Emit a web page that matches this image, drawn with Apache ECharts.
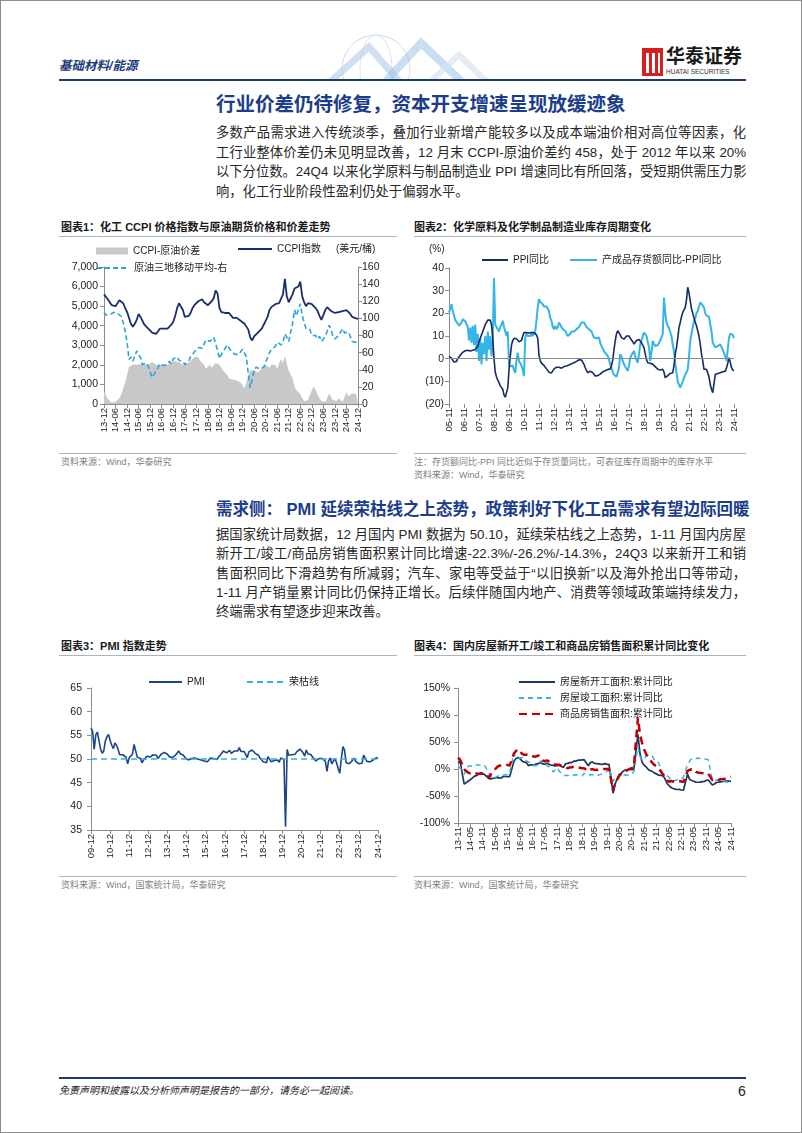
<!DOCTYPE html>
<html><head><meta charset="utf-8">
<script src="https://cdn.jsdelivr.net/npm/echarts@6/dist/echarts.min.js"></script>
<style>
body{margin:0;background:#fff;}
#page{position:relative;width:802px;height:1133px;border:1px solid #8c8c8c;box-sizing:border-box;overflow:hidden;font-family:'Liberation Sans','Noto Sans CJK SC',sans-serif;background:#fff;}
.abs{position:absolute;white-space:nowrap;}
.pl{position:absolute;left:215px;width:530px;height:20px;line-height:20px;font-size:13.3px;color:#262626;text-align:justify;text-align-last:justify;white-space:nowrap;}
.pl.last{text-align-last:left;}
.ctitle{position:absolute;font-size:11px;line-height:14px;font-weight:bold;color:#1a1a1a;white-space:nowrap;}
.rule{position:absolute;height:1px;background:#a6b4c8;}
.src{position:absolute;font-size:9px;line-height:12px;color:#808080;white-space:nowrap;}
.sec{position:absolute;left:215px;font-weight:bold;color:#1c3d8a;white-space:nowrap;}
.chart{position:absolute;}
</style></head>
<body>
<div id="page">
  <!-- header -->
  <svg class="abs" style="left:290px;top:28px" width="220" height="52">
    <circle cx="85" cy="40" r="34" fill="none" stroke="#d5dbe4" stroke-width="1"/>
    <ellipse cx="85" cy="40" rx="16" ry="34" fill="none" stroke="#dde2ea" stroke-width="1"/>
    <polyline points="40,52 78,18 108,52" fill="none" stroke="#b9d3ec" stroke-width="7" opacity="0.7"/>
    <polyline points="95,52 130,14 170,52" fill="none" stroke="#9fc3e6" stroke-width="8" opacity="0.55"/>
    <polyline points="140,52 168,26 195,52" fill="none" stroke="#d8e4f1" stroke-width="6" opacity="0.7"/>
  </svg>
  <div class="abs" style="left:58px;top:57px;font-size:12.5px;line-height:16px;font-weight:bold;font-style:italic;color:#1e3c7c;">基础材料/能源</div>
  <div class="abs" style="left:641px;top:47px;width:21px;height:28px;background:#d6201f;"></div>
  <div class="abs" style="left:645px;top:52px;width:3px;height:20px;background:#fff;"></div>
  <div class="abs" style="left:651px;top:52px;width:3px;height:20px;background:#fff;"></div>
  <div class="abs" style="left:657px;top:52px;width:2px;height:20px;background:#fff;"></div>
  <div class="abs" style="left:665px;top:45px;font-size:19px;line-height:22px;font-weight:bold;color:#1a1a1a;">华泰证券</div>
  <div class="abs" style="left:665px;top:67px;font-size:6.5px;line-height:8px;color:#333;">HUATAI SECURITIES</div>
  <div class="abs" style="left:58px;top:78px;width:687px;height:2px;background:#1c3a72;"></div>

  <div class="sec" style="top:90px;font-size:19.5px;line-height:26px;">行业价差仍待修复，资本开支增速呈现放缓迹象</div>
  <div class="pl" style="top:122px">多数产品需求进入传统淡季，叠加行业新增产能较多以及成本端油价相对高位等因素，化</div>
  <div class="pl" style="top:141.5px">工行业整体价差仍未见明显改善，12 月末 CCPI-原油价差约 458，处于 2012 年以来 20%</div>
  <div class="pl" style="top:161px">以下分位数。24Q4 以来化学原料与制品制造业 PPI 增速同比有所回落，受短期供需压力影</div>
  <div class="pl last" style="top:180.5px">响，化工行业阶段性盈利仍处于偏弱水平。</div>

  <div class="ctitle" style="left:60px;top:219px">图表1：化工 CCPI 价格指数与原油期货价格和价差走势</div>
  <div class="ctitle" style="left:413px;top:219px">图表2：化学原料及化学制品制造业库存周期变化</div>
  <div class="rule" style="left:58px;top:235px;width:338px"></div>
  <div class="rule" style="left:413px;top:235px;width:332px"></div>
  <div id="c1" class="chart" style="left:50px;top:238px;width:350px;height:213px"></div>
  <div id="c2" class="chart" style="left:405px;top:238px;width:350px;height:213px"></div>
  <div class="rule" style="left:58px;top:452px;width:338px"></div>
  <div class="rule" style="left:413px;top:452px;width:332px"></div>
  <div class="src" style="left:60px;top:455px">资料来源：Wind，华泰研究</div>
  <div class="src" style="left:413px;top:455px">注：存货额同比-PPI 同比近似于存货量同比，可表征库存周期中的库存水平</div>
  <div class="src" style="left:413px;top:468px">资料来源：Wind，华泰研究</div>

  <div class="sec" style="top:496px;font-size:16.5px;line-height:24px;">需求侧： PMI 延续荣枯线之上态势，政策利好下化工品需求有望边际回暖</div>
  <div class="pl" style="top:524px">据国家统计局数据，12 月国内 PMI 数据为 50.10，延续荣枯线之上态势，1-11 月国内房屋</div>
  <div class="pl" style="top:543.3px">新开工/竣工/商品房销售面积累计同比增速-22.3%/-26.2%/-14.3%，24Q3 以来新开工和销</div>
  <div class="pl" style="top:562.6px">售面积同比下滑趋势有所减弱；汽车、家电等受益于“以旧换新”以及海外抢出口等带动，</div>
  <div class="pl" style="top:582px">1-11 月产销量累计同比仍保持正增长。后续伴随国内地产、消费等领域政策端持续发力，</div>
  <div class="pl last" style="top:601.3px">终端需求有望逐步迎来改善。</div>

  <div class="ctitle" style="left:60px;top:638px">图表3：PMI 指数走势</div>
  <div class="ctitle" style="left:413px;top:638px">图表4：国内房屋新开工/竣工和商品房销售面积累计同比变化</div>
  <div class="rule" style="left:58px;top:654px;width:338px"></div>
  <div class="rule" style="left:413px;top:654px;width:332px"></div>
  <div id="c3" class="chart" style="left:50px;top:658px;width:350px;height:216px"></div>
  <div id="c4" class="chart" style="left:405px;top:658px;width:350px;height:216px"></div>
  <div class="rule" style="left:58px;top:875px;width:338px"></div>
  <div class="rule" style="left:413px;top:875px;width:332px"></div>
  <div class="src" style="left:60px;top:878px">资料来源：Wind，国家统计局，华泰研究</div>
  <div class="src" style="left:413px;top:878px">资料来源：Wind，国家统计局，华泰研究</div>

  <div class="abs" style="left:58px;top:1076px;width:687px;height:2px;background:#1c3a72;"></div>
  <div class="abs" style="left:58px;top:1083px;font-size:10px;line-height:14px;font-style:italic;color:#222;">免责声明和披露以及分析师声明是报告的一部分，请务必一起阅读。</div>
  <div class="abs" style="left:737px;top:1081px;font-size:14px;line-height:18px;color:#222;">6</div>
</div>
<script>
// ---------- category helpers ----------
function months(y0, m0, y1, m1) {
  const out = []; let y = y0, m = m0;
  while (y < y1 || (y === y1 && m <= m1)) {
    out.push(String(y % 100).padStart(2, '0') + '-' + String(m).padStart(2, '0'));
    m++; if (m > 12) { m = 1; y++; }
  }
  return out;
}

// ---------- Chart 1 data (2013-12 .. 2024-12) ----------
const c1Months = months(2013, 12, 2024, 12);
const ccpiIndex = [5600,
  5500,5350,5250,5050,5000,5000,5150,5300,5280,5150,4900,4700,
  4600,4100,3950,4100,4300,4600,4450,4250,4050,3950,3850,3750,
  3650,3550,3580,3700,3850,3950,3850,3780,3850,3900,4050,4200,
  4500,4900,5150,5250,4800,4450,4400,4500,4650,4900,5050,5100,
  5250,5300,5350,5200,5100,5050,5150,5250,5400,5800,5650,4900,
  4700,4650,4650,4700,4650,4600,4400,4300,4400,4300,4250,4300,
  4100,4000,3800,3400,3250,3450,3550,3650,3700,3850,4050,4250,
  4450,4800,4950,5000,5100,5050,5150,5200,5600,6400,5500,5200,
  5250,5600,5900,5850,6000,6250,5500,5200,5000,5150,5250,5100,
  5050,4900,4750,4500,4300,4350,4800,4950,4850,4750,4700,4650,
  4650,4700,4700,4750,4800,4800,4750,4600,4450,4400,4380,4350];
const oilAvg = [107,
  104,103,104,105,107,108,106,104,102,95,85,72,
  52,55,50,56,62,60,54,46,47,48,44,37,
  31,32,38,42,47,48,45,45,46,50,47,53,
  54,55,51,52,50,46,48,50,55,57,61,62,
  66,64,65,70,75,73,73,73,78,80,63,53,
  58,62,65,69,67,62,62,58,60,58,61,64,
  63,55,35,19,29,39,43,44,41,40,43,49,
  54,60,64,63,67,72,72,69,72,82,78,73,
  84,94,110,103,110,117,104,95,88,90,87,80,
  81,80,76,79,73,73,79,85,92,87,79,76,
  78,80,84,88,83,82,84,79,73,74,72,72];
const ccpiOilSpread = [650,
  450,250,150,80,50,100,200,300,500,800,1100,1500,
  1900,1800,2000,2100,2000,1900,2050,2150,2000,1900,2000,2100,
  2150,2050,2000,2100,2000,1950,2000,1900,2000,2050,2150,2100,
  2200,2300,2150,2050,2000,2000,2050,2100,2200,2300,2400,2350,
  2400,2200,2150,2000,1800,1900,2000,1850,1900,2100,2200,2000,
  1900,1700,1600,1500,1300,1400,1250,1300,1200,1250,1100,950,
  800,1100,1500,1700,1800,1750,1650,1600,1700,1850,1900,2000,
  1900,1850,2000,2100,2000,1800,2100,2300,2100,2450,2050,1700,
  1600,1300,900,700,600,500,300,150,100,200,300,700,
  900,700,500,300,150,80,100,300,550,350,200,100,
  150,300,200,100,350,600,400,300,550,600,500,458];

// ---------- Chart 2 data (2005-11 .. 2024-11) ----------
const c2Months = months(2005, 11, 2024, 11);
const ppiYoY = [1.0,0.5,
  0.2,-0.5,-1.5,-2,-1.2,0,0.8,1.5,2.2,2.8,3.3,3.5,
  3.6,3.7,3.5,3.4,3.5,3.7,3.8,4.0,4.2,5.5,7.5,9,
  10.5,12,13.5,15,16,17,17.5,17,15,9,0,-6,
  -8,-9.5,-10.5,-12,-12.5,-13.5,-16,-17,-16.5,-13,-5,1,
  6,8,9,8.5,8.8,8,7.5,7.5,8,10,11.5,12,
  11.5,11,11.3,11.8,11.5,11.2,11.5,11.8,10.5,9,1.5,-1,
  -2,-2.5,-3,-3.8,-4.5,-5.2,-6,-6.3,-6.3,-5.5,-4.5,-4,
  -3.8,-3.5,-3.8,-4,-4.2,-3.8,-3.5,-3.3,-3.2,-3,-2.8,-2.4,
  -2.2,-2,-1.8,-1.5,-1.2,-0.8,-0.5,-0.3,-0.6,-1.5,-2.5,-4,
  -5.2,-6.2,-6,-5.5,-5.6,-6.2,-7,-7.6,-7.8,-7.5,-7.2,-6.8,
  -6.3,-5.8,-5.5,-5.3,-5,-4.8,-4.7,-4.5,-3,-0.5,4,8,
  11,12.3,12,10.5,9.3,8.8,8.6,9,10,10.8,10,9,
  8.6,7.5,6.4,7,8,8.6,8.5,7.8,7,6,4.9,2,
  -0.5,-1.8,-1.5,-2,-2.3,-2.5,-3,-3.5,-4.2,-4.7,-5,-5,
  -4.7,-4.7,-6,-8.4,-8.2,-7.5,-7,-6.5,-6.5,-6.2,-3,2,
  5,9,13.7,16,18.5,20.4,21,22.6,26,31.5,29,25.5,
  22,20,18,16,14.5,13.7,10,6.4,2,-1,-4.7,-5,
  -4.7,-5,-8,-11.4,-13.5,-15,-11,-7,-6.5,-6.5,-6.2,-6.2,
  -6,-5.8,-5.6,-5.5,-4,-2,0.4,-1.5,-4,-5,-5.2];
const invMinusPpi = [20.4,22,
  24,21,19,17,16.7,15.5,14.5,15,16,17.4,17,16.5,
  16.7,14,8,13.7,7,14.5,6,15,3,11,-1,9,
  -2.5,7,2,10,-1,12,4,10,1,8,35.6,15,
  14,13,12,14,15,16.7,14,12,10,12,-2.5,-3.5,
  -4,-3,-5,-6.2,-1,2.7,-1,-2,-3.2,-5,-7.7,9.3,
  11,10,9.3,10,11,10,10,12,17,22.6,26.3,25,
  24.5,24,23,22.6,23,22,21,18,16.7,14,13,14.5,
  13,14,16,15,14,13,12.5,12.3,11,10,9.3,11,
  12,12.3,12,12.5,13,13,14,15,16,16.7,16,15,
  14,13.7,13,12.3,12,10.5,9.3,9.5,9,9.5,9.3,7,
  5.5,4.5,3.4,2.5,1.8,1.2,-0.5,-2.5,-4,-6,-7,-7.5,
  -8,-8.4,-4,2,1,-1,-2.5,-3.5,-4.5,-5.5,-3,0.4,
  1.5,2.5,3.4,1,-0.5,-1.8,2,6.4,8,10,11.5,11,
  10,9.3,5,-1,3,7.8,6.5,5.6,5,6,6.4,8,
  9.5,10.8,27,20,16,14.5,13.5,13,10,6,3.4,-2,
  -6,-10,-11.5,-12.8,-12,-10,-8.5,-7,-6,-4.7,1,7.8,
  11,14,16.7,18,20,21,23,24.8,24,23.5,22.6,20,
  19,19,18.5,18,12,7,6,5,4.9,5.5,6,6.4,
  5,4,3.4,1,-1,4,9.3,11,11.5,10.5,9];

// ---------- Chart 3 data (2009-12 .. 2024-12) ----------
const c3Months = months(2009, 12, 2024, 12);
const pmi = [56.6,
  55.8,52.0,55.1,55.7,53.9,52.1,51.2,51.7,53.8,54.7,55.2,53.9,
  52.9,52.2,53.4,52.9,52.0,50.9,50.7,50.9,51.2,50.4,49.0,50.3,
  50.5,51.0,53.1,53.3,50.4,50.2,50.1,49.2,49.8,50.2,50.6,50.6,
  50.4,50.1,50.9,50.6,50.8,50.1,50.3,51.0,51.1,51.4,51.4,51.0,
  50.5,50.2,50.3,50.4,50.8,51.0,51.7,51.1,51.1,50.8,50.3,50.1,
  49.8,49.9,50.1,50.1,50.2,50.2,50.0,49.7,49.8,49.8,49.6,49.7,
  49.4,49.0,50.2,50.1,50.1,50.0,49.9,50.4,50.4,51.2,51.7,51.4,
  51.3,51.6,51.8,51.2,51.2,51.7,51.4,51.7,52.4,51.6,51.8,51.6,
  51.3,50.3,51.5,51.4,51.9,51.5,51.2,51.3,50.8,50.2,50.0,49.4,
  49.5,49.2,50.5,50.1,49.4,49.4,49.7,49.5,49.8,49.3,50.2,50.2,
  50.0,35.7,52.0,50.8,50.6,50.9,51.1,51.0,51.5,51.4,52.1,51.9,
  51.3,50.6,51.9,51.1,51.0,50.9,50.4,50.1,49.6,49.2,50.1,50.3,
  50.1,50.2,49.5,47.4,49.6,50.2,49.0,49.4,50.1,49.2,48.0,47.0,
  50.1,52.6,51.9,49.2,48.8,49.0,49.3,49.7,50.2,49.5,49.4,49.0,
  49.2,49.1,50.8,50.4,49.5,49.5,49.4,49.1,49.8,50.1,50.3,50.1];
const THRESHOLD = 50;

// ---------- Chart 4 data (2013-11 .. 2024-11, Jan not published) ----------
const c4Months = months(2013, 11, 2024, 11);
const newStartsYoY = [11.5,13.5,
  null,-27.9,-25.2,-22.3,-19.8,-16.4,-13.3,-12.4,-9.3,-8.9,-9.0,-10.7,
  null,-17.7,-18.4,-17.1,-16.4,-15.8,-16.8,-16.3,-13.9,-13.9,-14.0,-14.0,
  null,13.7,19.2,21.4,18.9,14.9,12.7,12.2,6.2,7.6,7.6,8.1,
  null,10.4,11.6,9.4,8.8,10.6,8.6,7.3,6.6,5.6,6.2,7.0,
  null,2.9,9.7,10.3,11.8,11.8,14.4,14.4,16.4,16.3,16.8,17.2,
  null,6.0,11.9,13.1,10.5,10.1,9.5,8.9,8.6,10.0,8.6,8.5,
  null,-44.9,-27.2,-18.4,-12.8,-7.6,-3.6,-1.9,-1.4,-0.4,-1.0,-1.2,
  null,64.3,28.2,12.8,6.9,3.8,-0.9,-3.2,-4.5,-7.7,-9.1,-11.4,
  null,-12.2,-17.5,-26.3,-30.6,-34.4,-36.1,-37.2,-38.0,-37.8,-38.9,-39.4,
  null,-9.4,-19.2,-21.2,-22.6,-24.3,-24.5,-24.4,-23.4,-23.2,-21.2,-20.4,
  null,-29.7,-27.8,-24.6,-24.2,-23.7,-23.2,-22.5,-22.2,-22.6,-22.3];
const completionsYoY = [4.5,2.0,
  null,-10.0,-0.2,5.0,6.0,4.9,5.7,7.6,7.6,6.9,7.8,5.9,
  null,-8.8,-14.5,-18.5,-15.8,-13.3,-13.0,-10.7,-11.3,-10.3,-10.8,-6.9,
  null,29.7,21.6,18.5,20.9,21.4,19.3,15.8,12.3,12.6,11.1,6.1,
  null,7.0,15.6,10.2,10.5,6.4,4.1,0.0,-5.4,-1.9,2.2,-4.4,
  null,-11.8,-12.1,-12.0,-11.3,-10.6,-11.6,-10.6,-11.4,-12.5,-12.3,-7.8,
  null,-11.9,-10.8,-10.3,-12.4,-12.7,-11.3,-10.0,-8.6,-5.5,-4.5,2.6,
  null,-22.9,-15.8,-16.4,-8.6,-10.5,-11.3,-10.8,-11.6,-9.2,-9.0,-4.9,
  null,40.4,22.9,17.9,16.4,25.7,25.7,26.0,23.4,16.3,16.0,11.2,
  null,-9.6,-11.5,-11.9,-15.3,-21.5,-23.3,-21.1,-19.9,-18.7,-19.0,-15.0,
  null,8.0,14.7,18.8,19.6,19.0,20.5,19.2,19.8,19.0,17.9,17.0,
  null,-20.2,-20.7,-20.4,-20.1,-21.8,-21.2,-23.2,-24.4,-23.9,-26.2];
const salesYoY = [20.8,17.3,
  null,-0.1,-3.8,-6.8,-7.8,-6.0,-7.6,-8.3,-8.6,-7.8,-8.2,-7.6,
  null,-16.3,-9.2,-4.8,-0.2,3.9,6.1,7.2,7.5,7.2,7.4,6.5,
  null,28.2,33.1,36.5,33.2,27.9,26.4,26.3,26.9,26.8,24.3,22.5,
  null,25.1,19.5,15.7,14.3,16.1,14.0,12.7,10.3,8.2,7.9,7.7,
  null,4.1,3.6,1.3,2.9,3.3,4.2,4.0,2.9,2.2,1.4,1.3,
  null,-3.6,-0.9,-0.3,-1.6,-1.8,-1.3,-0.6,-0.1,0.1,0.2,-0.1,
  null,-39.9,-26.3,-19.3,-12.3,-8.4,-5.8,-3.3,-1.8,0.0,1.3,2.6,
  null,95.0,63.8,48.1,36.3,27.7,21.5,15.9,11.3,7.3,4.8,1.9,
  null,-9.6,-13.8,-20.9,-23.6,-22.2,-23.1,-23.0,-22.2,-22.3,-23.3,-24.3,
  null,-3.6,-1.8,-0.4,-0.9,-5.3,-6.5,-7.1,-7.5,-7.8,-8.0,-8.5,
  null,-20.5,-19.4,-20.2,-20.3,-19.0,-18.6,-18.0,-17.1,-15.8,-14.3];

// ---------- shared styling ----------
const FONT = "'Liberation Sans','Noto Sans CJK SC',sans-serif";
const AXC = '#8c8c8c';
function xCat(labels, step, showLine) {
  return {
    type: 'category', data: labels, boundaryGap: false,
    axisLine: { show: showLine, onZero: false, lineStyle: { color: AXC, width: 1 } },
    axisTick: { show: true, interval: step - 1, length: 4, lineStyle: { color: AXC } },
    axisLabel: { interval: step - 1, rotate: 90, margin: 4, color: '#222', fontSize: 9.5, fontFamily: FONT,
                 showMinLabel: true, showMaxLabel: true, hideOverlap: false },
    splitLine: { show: false }
  };
}
function yVal(min, max, interval, fmt, margin, pos) {
  return {
    type: 'value', min, max, interval, position: pos || 'left',
    axisLine: { show: true, lineStyle: { color: AXC } },
    axisTick: { show: true, length: 4, lineStyle: { color: AXC } },
    axisLabel: { color: '#222', fontSize: 10.5, fontFamily: FONT, margin: margin, formatter: fmt },
    splitLine: { show: false }
  };
}
// line legends: hide the symbol dot, keep the (dashed) line sample
function leg(data, left, top, w, h, extra) {
  return Object.assign({
    data, left, top, itemWidth: w, itemHeight: h, itemGap: 6, padding: 0,
    selectedMode: false, itemStyle: { opacity: 0 },
    textStyle: { color: '#222', fontSize: 10, fontFamily: FONT }
  }, extra || {});
}
function lineS(name, data, color, width, type, extra) {
  return Object.assign({
    name, type: 'line', data, symbol: 'none', showSymbol: false, color,
    lineStyle: { color, width, type: type || 'solid' }, emphasis: { disabled: true }
  }, extra || {});
}
const thousands = v => v.toLocaleString('en-US');

// ---------- Chart 1 ----------
const ch1 = echarts.init(document.getElementById('c1'), null, { renderer: 'canvas' });
ch1.setOption({
  animation: false,
  grid: { left: 53, right: 43, top: 28, bottom: 48 },
  legend: [
    leg([{ name: 'CCPI-原油价差', icon: 'rect' }], 45, 7, 32, 7, { itemStyle: { opacity: 1 } }),
    leg(['CCPI指数'], 186, 5, 34, 10),
    leg(['原油三地移动平均-右'], 45, 24, 32, 10)
  ],
  graphic: [{ type: 'text', left: 285, top: 5, style: { text: '(美元/桶)', fill: '#222', font: '10px ' + FONT } }],
  xAxis: xCat(c1Months, 6, true),
  yAxis: [yVal(0, 7000, 1000, thousands, 6), yVal(0, 160, 20, null, 4, 'right')],
  series: [
    lineS('CCPI-原油价差', ccpiOilSpread, '#c8c8c8', 0, 'solid', { areaStyle: { color: '#c8c8c8', opacity: 1 }, itemStyle: { color: '#c8c8c8' } }),
    lineS('CCPI指数', ccpiIndex, '#1a2e6c', 1.8),
    lineS('原油三地移动平均-右', oilAvg, '#2aa4dc', 1.6, [5, 3], { yAxisIndex: 1 })
  ]
});

// ---------- Chart 2 ----------
const ch2 = echarts.init(document.getElementById('c2'));
ch2.setOption({
  animation: false,
  grid: { left: 43, right: 22, top: 29, bottom: 48 },
  legend: [
    leg(['PPI同比'], 75, 16, 26, 10),
    leg(['产成品存货额同比-PPI同比'], 163, 16, 27, 10)
  ],
  graphic: [{ type: 'text', left: 23, top: 5, style: { text: '(%)', fill: '#222', font: '10px ' + FONT } }],
  xAxis: xCat(c2Months, 12, false),
  yAxis: yVal(-20, 40, 10, v => v < 0 ? '(' + (-v) + ')' : String(v), 5),
  series: [
    lineS('产成品存货额同比-PPI同比', invMinusPpi, '#33b5e8', 2),
    lineS('PPI同比', ppiYoY, '#162a66', 1.6, 'solid', {
      markLine: { symbol: 'none', silent: true, label: { show: false }, lineStyle: { color: AXC, width: 1, type: 'solid' }, data: [{ yAxis: 0 }] }
    })
  ]
});

// ---------- Chart 3 ----------
const ch3 = echarts.init(document.getElementById('c3'));
ch3.setOption({
  animation: false,
  grid: { left: 40, right: 23, top: 29, bottom: 45 },
  legend: [
    leg(['PMI'], 97, 18, 33, 10),
    leg(['荣枯线'], 195, 18, 37, 10)
  ],
  xAxis: xCat(c3Months, 12, true),
  yAxis: yVal(35, 65, 5, null, 9),
  series: [
    lineS('荣枯线', [], '#33b0e0', 1.6, [6, 4], {
      markLine: { symbol: 'none', silent: true, label: { show: false }, lineStyle: { color: '#33b0e0', width: 1.6, type: [6, 4] }, data: [{ yAxis: THRESHOLD }] }
    }),
    lineS('PMI', pmi, '#1c4587', 1.6)
  ]
});

// ---------- Chart 4 ----------
const ch4 = echarts.init(document.getElementById('c4'));
ch4.setOption({
  animation: false,
  grid: { left: 52, right: 25, top: 29, bottom: 52 },
  legend: leg(['房屋新开工面积:累计同比', '房屋竣工面积:累计同比', '商品房销售面积:累计同比'], 112, 18, 36, 10, { orient: 'vertical', itemGap: 6 }),
  xAxis: xCat(c4Months, 6, true),
  yAxis: yVal(-100, 150, 50, '{value}%', 8),
  series: [
    lineS('房屋新开工面积:累计同比', newStartsYoY, '#1b365f', 1.7, 'solid', { connectNulls: true }),
    lineS('房屋竣工面积:累计同比', completionsYoY, '#38b0e0', 1.5, [5, 4], { connectNulls: true }),
    lineS('商品房销售面积:累计同比', salesYoY, '#c00000', 2.5, [8, 5], { connectNulls: true })
  ]
});
</script>
</body></html>
